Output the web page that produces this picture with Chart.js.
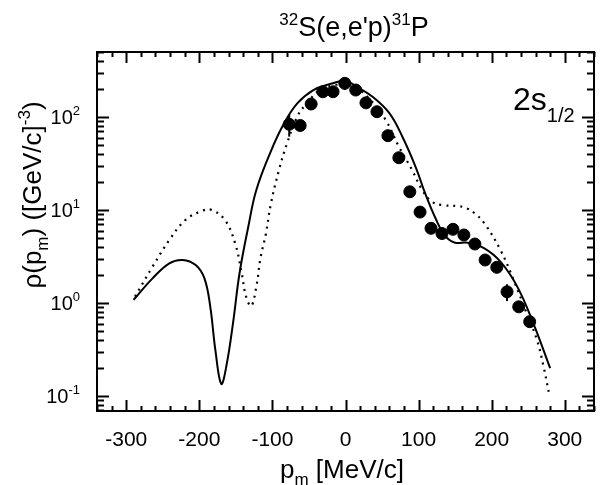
<!DOCTYPE html>
<html>
<head>
<meta charset="utf-8">
<script src="https://cdn.jsdelivr.net/npm/chart.js@4.4.1/dist/chart.umd.min.js"></script>
<style>
  body { margin: 0; background: #fff; }
  canvas { display: block; }
</style>
</head>
<body>
<canvas id="momentumChart" width="601" height="485"></canvas>
<script>
// Measured data points (p_m in MeV/c, density)
const dataMomentum = [-77, -62, -47, -31, -17, -1, 14, 28, 43, 58, 73, 88, 102, 117, 132, 147, 162, 177, 191, 207, 221, 237, 252];
const dataDensity = [83.5, 81, 138, 187, 187, 230, 195, 142, 114, 63, 36.5, 15.7, 9.5, 6.36, 5.59, 6.2, 5.39, 4.31, 2.9, 2.42, 1.32, 0.91, 0.63];
const dataError = [22, 0, 0, 0, 0, 35, 0, 0, 0, 0, 0, 0, 0, 0, 0, 0, 0, 0, 0, 0, 0.27, 0, 0];

// Solid curve
const solidMomentum = [-290, -264, -241, -223, -205, -193, -185, -178, -170, -163, -154, -145, -133, -122, -102, -84, -66, -44, -21, 0, 15, 37, 60, 78, 96, 109, 123, 136, 150, 167, 190, 212, 235, 257, 280];
const solidDensity = [1.08, 1.84, 2.67, 2.9, 2.56, 1.84, 0.91, 0.31, 0.135, 0.21, 0.6, 2.09, 6.6, 16.4, 43, 85.5, 140, 195, 226, 245, 212, 165, 110, 61, 29, 15.1, 8.2, 5.3, 4.45, 4.45, 3.87, 2.78, 1.5, 0.605, 0.199];

// Dotted curve
const dottedMomentum = [-288, -264, -241, -219, -196, -183, -165, -151, -142, -136, -129, -122, -116, -109, -102, -91, -80, -66, -53, -35, -15, 0, 15, 35, 55, 73, 91, 105, 118, 132, 154, 165, 177, 190, 212, 230, 248, 262, 271, 278];
const dottedDensity = [1.17, 2.46, 4.76, 7.8, 9.8, 10, 7.8, 4.38, 2.09, 1.17, 0.93, 1.5, 3.15, 5.5, 11.8, 26.9, 52, 101, 140, 195, 220, 225, 205, 150, 93, 48, 27, 16.4, 12.3, 11.3, 11.0, 10.5, 9.2, 7.2, 3.71, 1.77, 0.77, 0.4, 0.207, 0.111];

const xTickValues = [-300, -200, -100, 0, 100, 200, 300];
const yTickExponents = [-1, 0, 1, 2];

const FONT = '"Liberation Sans", Arial, Helvetica, sans-serif';

// Draw a run of text pieces with sub/superscripts: [text, size, dy]
function drawRuns(ctx, runs, x, y, align) {
  let w = 0;
  runs.forEach(r => { ctx.font = r[1] + 'px ' + FONT; w += ctx.measureText(r[0]).width; });
  let cx = align === 'center' ? x - w / 2 : align === 'right' ? x - w : x;
  runs.forEach(r => {
    ctx.font = r[1] + 'px ' + FONT;
    ctx.fillText(r[0], cx, y + r[2]);
    cx += ctx.measureText(r[0]).width;
  });
}

const framePlugin = {
  id: 'frame',
  beforeDatasetsDraw(chart) {
    // error bars
    const ctx = chart.ctx, xs = chart.scales.x, ys = chart.scales.y;
    ctx.save();
    ctx.strokeStyle = '#000';
    ctx.lineWidth = 2;
    dataMomentum.forEach((p, i) => {
      if (!dataError[i]) return;
      const x = xs.getPixelForValue(p);
      ctx.beginPath();
      ctx.moveTo(x, ys.getPixelForValue(dataDensity[i] + dataError[i]));
      ctx.lineTo(x, ys.getPixelForValue(dataDensity[i] - dataError[i]));
      ctx.stroke();
    });
    ctx.restore();
  },
  afterDraw(chart) {
    const ctx = chart.ctx, xs = chart.scales.x, ys = chart.scales.y;
    const a = chart.chartArea;
    ctx.save();
    ctx.strokeStyle = '#000';
    ctx.fillStyle = '#000';
    ctx.lineWidth = 2;
    ctx.strokeRect(a.left, a.top, a.right - a.left, a.bottom - a.top);

    // x ticks on top and bottom
    ctx.beginPath();
    for (let v = -340; v <= 340; v += 20) {
      const x = Math.round(xs.getPixelForValue(v)) + 0.5;
      const len = v % 100 === 0 ? 11 : 5;
      ctx.moveTo(x, a.bottom); ctx.lineTo(x, a.bottom - len);
      ctx.moveTo(x, a.top); ctx.lineTo(x, a.top + len);
    }
    // y ticks on left and right
    for (let d = -2; d <= 2; d++) {
      for (let k = 1; k <= 9; k++) {
        const v = k * Math.pow(10, d);
        if (v < ys.min || v > ys.max) continue;
        const y = Math.round(ys.getPixelForValue(v)) + 0.5;
        const len = k === 1 ? 12 : 7;
        ctx.moveTo(a.left, y); ctx.lineTo(a.left + len, y);
        ctx.moveTo(a.right, y); ctx.lineTo(a.right - len, y);
      }
    }
    ctx.stroke();

    ctx.textBaseline = 'alphabetic';
    ctx.textAlign = 'left';
    // x tick labels
    xTickValues.forEach(v => {
      drawRuns(ctx, [[String(v), 21, 0]], xs.getPixelForValue(v), 446, 'center');
    });
    // y tick labels
    yTickExponents.forEach(e => {
      const y = ys.getPixelForValue(Math.pow(10, e));
      drawRuns(ctx, [['10', 20, 0], [String(e), 13, -9]], 80, y + 7, 'right');
    });

    // titles
    drawRuns(ctx, [['32', 17, -11], ["S(e,e'p)", 27, 0], ['31', 17, -11], ['P', 27, 0]], 354, 36, 'center');
    drawRuns(ctx, [['p', 26, 0], ['m', 17, 7], [' [MeV/c]', 26, 0]], 342, 478, 'center');
    drawRuns(ctx, [['2s', 32, 0], ['1/2', 20, 12]], 513, 110, 'left');

    ctx.save();
    ctx.translate(41, 195);
    ctx.rotate(-Math.PI / 2);
    drawRuns(ctx, [['\u03c1(p', 26, 0], ['m', 17, 7], [') ([GeV/c]', 26, 0], ['-3', 17, -11], [')', 26, 0]], 0, 0, 'center');
    ctx.restore();
    ctx.restore();
  }
};

const toXY = (xs, ys) => xs.map((x, i) => ({ x: x, y: ys[i] }));

new Chart(document.getElementById('momentumChart'), {
  type: 'scatter',
  data: {
    datasets: [
      {
        label: 'data',
        data: toXY(dataMomentum, dataDensity),
        pointRadius: 6,
        pointBackgroundColor: '#000',
        pointBorderColor: '#000',
        showLine: false
      },
      {
        label: 'solid',
        data: toXY(solidMomentum, solidDensity),
        showLine: true,
        pointRadius: 0,
        borderColor: '#000',
        borderWidth: 2,
        tension: 0.4
      },
      {
        label: 'dotted',
        data: toXY(dottedMomentum, dottedDensity),
        showLine: true,
        pointRadius: 0,
        borderColor: '#000',
        borderWidth: 2.2,
        borderDash: [2, 5],
        tension: 0.4
      }
    ]
  },
  options: {
    responsive: false,
    animation: false,
    devicePixelRatio: 1,
    layout: { padding: { left: 97, right: 2, top: 52, bottom: 74 } },
    plugins: { legend: { display: false }, tooltip: { enabled: false }, title: { display: false } },
    scales: {
      x: { type: 'linear', min: -340, max: 340, display: false },
      y: { type: 'logarithmic', min: 0.069, max: 500, display: false }
    }
  },
  plugins: [framePlugin]
});
</script>
</body>
</html>
